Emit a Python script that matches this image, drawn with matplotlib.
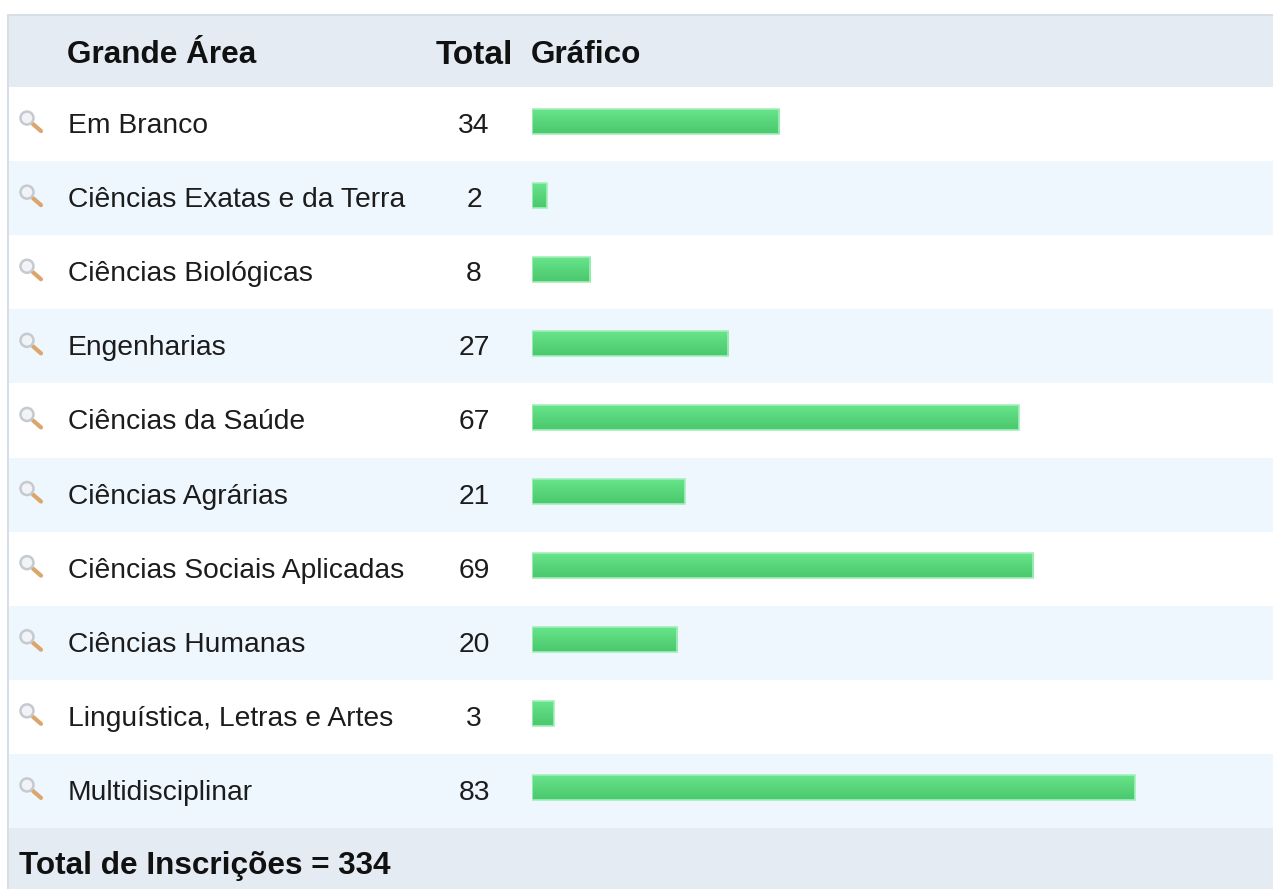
import numpy as np
import matplotlib
matplotlib.use("Agg")
import matplotlib.pyplot as plt
from matplotlib.colors import LinearSegmentedColormap
from matplotlib.patches import Circle, Rectangle

# Table contents
areas = ["Em Branco", "Ciências Exatas e da Terra", "Ciências Biológicas",
         "Engenharias", "Ciências da Saúde", "Ciências Agrárias",
         "Ciências Sociais Aplicadas", "Ciências Humanas",
         "Linguística, Letras e Artes", "Multidisciplinar"]
totals = [34, 2, 8, 27, 67, 21, 69, 20, 3, 83]
headers = ["Grande Área", "Total", "Gráfico"]
footer = "Total de Inscrições = 334"

plt.rcParams["font.family"] = ["Liberation Sans", "DejaVu Sans"]
W, H = 1273, 889
TEXT = "#1c1c1c"
HEAD_BG = "#e4ebf3"
ALT_BG = "#eef6fe"
ROW_TOP = 87
ROW_H = 74.1

fig = plt.figure(figsize=(W / 100, H / 100), dpi=100, facecolor="white")

# Background axes works in pixels, y going down
ax = fig.add_axes([0, 0, 1, 1])
ax.set_xlim(0, W)
ax.set_ylim(H, 0)
ax.axis("off")

ax.add_patch(Rectangle((8, 15), W + 10, H, fc="white", ec="#d8dee5", lw=1.5))
ax.add_patch(Rectangle((9, 16), W, ROW_TOP - 16, fc=HEAD_BG, ec="none"))
ax.add_patch(Rectangle((9, 828), W, H - 828, fc=HEAD_BG, ec="none"))

ax.text(67, 55, headers[0], fontsize=22.7, fontweight="bold", color="#111111",
        ha="left", va="center")
ax.text(474.5, 55, headers[1], fontsize=24, fontweight="bold", color="#111111",
        ha="center", va="center")
ax.text(531, 55, headers[2], fontsize=22.7, fontweight="bold", color="#111111",
        ha="left", va="center")
ax.text(19, 866, footer, fontsize=22.7, fontweight="bold", color="#111111",
        ha="left", va="center")

for i, (area, total) in enumerate(zip(areas, totals)):
    top = ROW_TOP + i * ROW_H
    mid = top + ROW_H / 2
    if i % 2 == 1:
        ax.add_patch(Rectangle((9, top), W, ROW_H, fc=ALT_BG, ec="none"))
    ax.text(68, mid + 2, area, fontsize=20.3, color=TEXT, ha="left", va="center")
    ax.text(474, mid + 2, str(total), fontsize=20.3, color=TEXT, ha="center",
            va="center")
    # Magnifier icon
    ax.plot([33, 41], [mid, mid + 7], color="#dba66c", lw=3,
            solid_capstyle="round", zorder=3)
    ax.add_patch(Circle((27, mid - 6), 6.5, fc="#f1f3f6", ec="#c4cad0", lw=1.8,
                        zorder=4))

# Bars get their own axes, x is in values
px_per_unit = (1135 - 532) / 83.0
bar_ax = fig.add_axes([532 / W, 0, (W - 532) / W, 1])
bar_ax.set_xlim(0, (W - 532) / px_per_unit)
bar_ax.set_ylim(H, 0)
bar_ax.axis("off")
bar_ax.patch.set_alpha(0)

ypos = [ROW_TOP + (i + 0.5) * ROW_H - 3 for i in range(len(totals))]
bars = bar_ax.barh(ypos, totals, height=25, color="none", edgecolor="#a4efba",
                   linewidth=1.2, align="center", zorder=4)
green = LinearSegmentedColormap.from_list("bar_green", ["#68e48a", "#4ac86d"])
gradient = np.linspace(0, 1, 64).reshape(-1, 1)
for bar in bars:
    x0, y0 = bar.get_x(), bar.get_y()
    bar_ax.imshow(gradient, cmap=green, aspect="auto",
                  extent=(x0, x0 + bar.get_width(), y0 + bar.get_height(), y0),
                  origin="upper", zorder=3)
bar_ax.set_xlim(0, (W - 532) / px_per_unit)
bar_ax.set_ylim(H, 0)

fig.savefig("out.png", dpi=100)
